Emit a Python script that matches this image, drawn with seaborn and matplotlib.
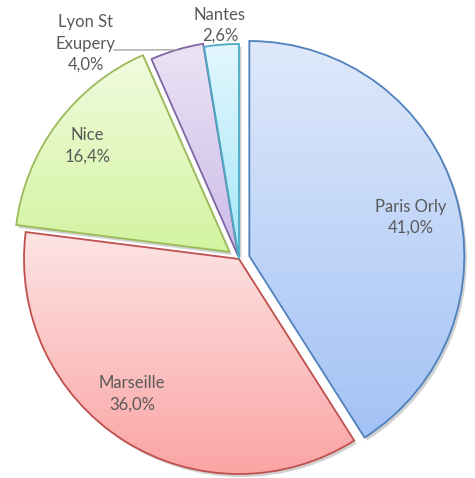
import numpy as np
import matplotlib
matplotlib.use("Agg")
import matplotlib.pyplot as plt
import seaborn as sns
from matplotlib.colors import LinearSegmentedColormap
from matplotlib.patches import Wedge

sns.set_theme(style="white")
plt.rcParams['font.family'] = ['Lato', 'DejaVu Sans']

# Data
categories = ["Paris Orly", "Marseille", "Nice", "Lyon St\nExupery", "Nantes"]
values = [41.0, 36.0, 16.4, 4.0, 2.6]
pct_labels = ["41,0%", "36,0%", "16,4%", "4,0%", "2,6%"]

# Styles
explode = [0.05, 0.0, 0.055, 0.015, 0.0]
edge_colors = ["#4f81bd", "#c0504d", "#9bbb59", "#8064a2", "#4bacc6"]
top_colors = ["#dfe9fb", "#fde4e4", "#f1fbde", "#ebe4f5", "#e3f7fd"]
bot_colors = ["#a3c2f5", "#fba4a4", "#d2f4a0", "#cbbbe7", "#a5e6f8"]
label_r = [0.82, 0.80, 0.88, 1.23, 1.09]
label_da = [-2.5, -6.0, 0.0, 18.9, 0.0]   # degrees offset from slice middle

W, H = 475, 478
fig = plt.figure(figsize=(W / 100, H / 100), dpi=100)
R = 215.0
cx, cy = 239.0, 259.0
ax = fig.add_axes([0, 0, 1, 1])
ax.axis('off')

wedges, _ = ax.pie(values, explode=explode, startangle=90, counterclock=False,
                   radius=1.0, center=(0, 0), frame=False,
                   wedgeprops=dict(linewidth=1.3))

for i, w in enumerate(wedges):
    w.set_facecolor("none")
    w.set_edgecolor(edge_colors[i])
    w.set_zorder(3)
    c = w.center
    sh = Wedge((c[0] + 2.5 / R, c[1] - 3.0 / R), w.r, w.theta1, w.theta2,
               facecolor="#000000", alpha=0.18, edgecolor="none", zorder=1)
    ax.add_patch(sh)
    verts = w.get_path().vertices
    x0, x1 = verts[:, 0].min(), verts[:, 0].max()
    y0, y1 = verts[:, 1].min(), verts[:, 1].max()
    cmap = LinearSegmentedColormap.from_list("g%d" % i, [bot_colors[i], top_colors[i]])
    grad = np.linspace(0, 1, 256).reshape(-1, 1)
    im = ax.imshow(grad, cmap=cmap, extent=(x0, x1, y0, y1), origin='lower',
                   aspect='auto', interpolation='bilinear', zorder=2)
    bg = Wedge(c, w.r, w.theta1, w.theta2, facecolor="white", edgecolor="none", zorder=1.5)
    ax.add_patch(bg)
    clip = Wedge(c, w.r, w.theta1, w.theta2, transform=ax.transData)
    im.set_clip_path(clip)

ax.set_xlim(-cx / R, (W - cx) / R)
ax.set_ylim(-(H - cy) / R, cy / R)
ax.set_aspect('auto')

for i, w in enumerate(wedges):
    mid = np.deg2rad((w.theta1 + w.theta2) / 2 + label_da[i])
    lx = label_r[i] * np.cos(mid)
    ly = label_r[i] * np.sin(mid)
    ax.text(lx, ly, categories[i] + "\n" + pct_labels[i], ha='center', va='center',
            fontsize=12, color="#595959", linespacing=1.4, zorder=5)

wl = wedges[3]
mid = np.deg2rad((wl.theta1 + wl.theta2) / 2)
ex = wl.center[0] + wl.r * np.cos(mid)
ey = wl.center[1] + wl.r * np.sin(mid)
ax.plot([(114 - cx) / R, ex], [(cy - 50) / R, ey], color="#a6a6a6", lw=1.0, zorder=4)

fig.savefig("out.png", dpi=100, facecolor="white")
